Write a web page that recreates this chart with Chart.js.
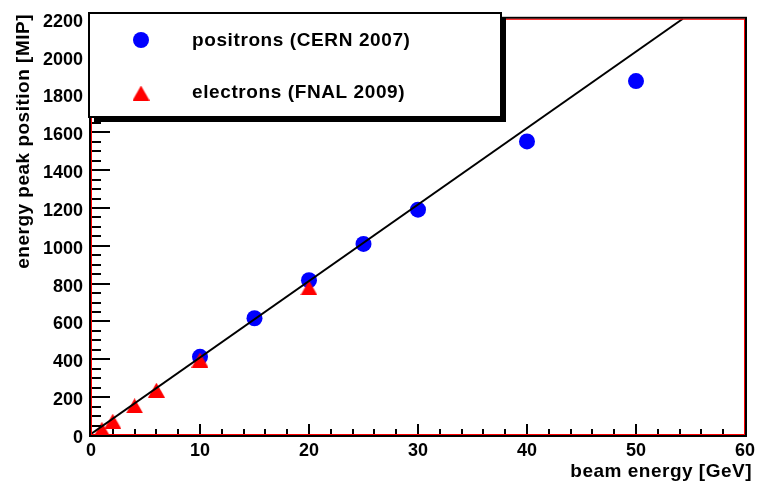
<!DOCTYPE html>
<html>
<head>
<meta charset="utf-8">
<script src="https://cdn.jsdelivr.net/npm/chart.js@4.4.1/dist/chart.umd.min.js"></script>
<style>
  html, body { margin: 0; padding: 0; background: #ffffff; }
  #wrap { width: 760px; height: 482px; }
</style>
</head>
<body>
<div id="wrap"><canvas id="c" width="760" height="482"></canvas></div>
<script>
// Beam energy scan: peak position of the energy distribution vs beam energy
const positronEnergy = [10, 15, 20, 25, 30, 40, 50];
const positronPeak   = [413, 617, 818, 1010, 1191, 1552, 1871];

const electronEnergy = [1, 2, 4, 6, 10, 20];
const electronPeak   = [30, 73, 154, 237, 396, 778];

// Straight-line fit, drawn between its two end points
const fitEnergy = [0, 54.3];
const fitPeak   = [5, 2200];

const xTicks = [0, 10, 20, 30, 40, 50, 60];
const yTicks = [0, 200, 400, 600, 800, 1000, 1200, 1400, 1600, 1800, 2000, 2200];

const legendLabels = ['positrons (CERN 2007)', 'electrons (FNAL 2009)'];
const axisTitles = { x: 'beam energy [GeV]', y: 'energy peak position [MIP]' };

const FONT = "'Liberation Sans', Arial, Helvetica, sans-serif";
const BLUE = '#0000ff';
const RED = '#ff0000';

// Upward triangle marker, centred half-way up its height
function makeTriangle(w, h) {
  const cv = document.createElement('canvas');
  cv.width = w; cv.height = h;
  const g = cv.getContext('2d');
  g.fillStyle = RED;
  g.beginPath();
  g.moveTo(w / 2, 0);
  g.lineTo(w, h);
  g.lineTo(0, h);
  g.closePath();
  g.fill();
  return cv;
}
const triangleMark = makeTriangle(17, 15);

const zip = (xs, ys) => xs.map((x, i) => ({ x: x, y: ys[i] }));

// Inward tick marks, frame and boxed legend
const decorations = {
  id: 'decorations',
  afterDraw(chart) {
    const ctx = chart.ctx;
    const a = chart.chartArea;
    const xs = chart.scales.x, ys = chart.scales.y;
    ctx.save();

    // tick marks pointing into the plot
    ctx.strokeStyle = '#000';
    ctx.lineWidth = 2;
    ctx.beginPath();
    for (let v = 0; v <= 2200; v += 50) {
      const py = Math.round(ys.getPixelForValue(v));
      const len = (v % 200 === 0) ? 19 : 10;
      ctx.moveTo(a.left, py);
      ctx.lineTo(a.left + len, py);
    }
    for (let v = 0; v <= 60; v += 2) {
      const px = Math.round(xs.getPixelForValue(v));
      const len = (v % 10 === 0) ? 11 : 6;
      ctx.moveTo(px, a.bottom);
      ctx.lineTo(px, a.bottom - len);
    }
    ctx.stroke();

    // frame: black outline with a red inner line
    ctx.lineWidth = 2;
    ctx.strokeStyle = '#000';
    ctx.strokeRect(a.left - 1, a.top - 1, a.right - a.left + 2, a.bottom - a.top + 2);
    ctx.lineWidth = 1;
    ctx.strokeStyle = RED;
    ctx.strokeRect(a.left + 0.5, a.top + 0.5, a.right - a.left - 1, a.bottom - a.top - 1);

    // legend box with drop shadow
    const bx = 89, by = 13, bw = 412, bh = 104;
    ctx.fillStyle = '#000';
    ctx.fillRect(bx + 5, by + 5, bw, bh);
    ctx.fillStyle = '#fff';
    ctx.fillRect(bx, by, bw, bh);
    ctx.lineWidth = 2;
    ctx.strokeStyle = '#000';
    ctx.strokeRect(bx, by, bw, bh);

    ctx.fillStyle = BLUE;
    ctx.beginPath();
    ctx.arc(141, 40, 8, 0, Math.PI * 2);
    ctx.fill();
    ctx.drawImage(triangleMark, 141 - triangleMark.width / 2, 93 - triangleMark.height / 2);

    ctx.fillStyle = '#000';
    ctx.font = 'bold 19px ' + FONT;
    ctx.letterSpacing = '0.6px';
    ctx.textAlign = 'left';
    ctx.textBaseline = 'alphabetic';
    ctx.fillText(legendLabels[0], 192, 46);
    ctx.fillText(legendLabels[1], 192, 98);

    // axis titles, aligned to the far ends of the axes
    ctx.letterSpacing = '0.5px';
    ctx.textAlign = 'right';
    ctx.fillText(axisTitles.x, 752, 477);
    ctx.save();
    ctx.translate(29, 14);
    ctx.rotate(-Math.PI / 2);
    ctx.textAlign = 'right';
    ctx.fillText(axisTitles.y, 0, 0);
    ctx.restore();

    ctx.restore();
  }
};

new Chart(document.getElementById('c'), {
  type: 'scatter',
  data: {
    datasets: [
      {
        type: 'line',
        label: 'fit',
        data: zip(fitEnergy, fitPeak),
        borderColor: '#000',
        borderWidth: 2,
        pointRadius: 0,
        fill: false,
        order: 0
      },
      {
        label: legendLabels[1],
        data: zip(electronEnergy, electronPeak),
        pointStyle: triangleMark,
        backgroundColor: RED,
        borderWidth: 0,
        clip: false,
        order: 1
      },
      {
        label: legendLabels[0],
        data: zip(positronEnergy, positronPeak),
        pointStyle: 'circle',
        pointRadius: 8,
        backgroundColor: BLUE,
        borderWidth: 0,
        clip: false,
        order: 2
      }
    ]
  },
  options: {
    responsive: false,
    animation: false,
    devicePixelRatio: 1,
    layout: { padding: { left: 0, right: 13, top: 14, bottom: 0 } },
    plugins: { legend: { display: false }, tooltip: { enabled: false } },
    scales: {
      x: {
        type: 'linear',
        min: 0, max: 60,
        grid: { display: false, drawTicks: false },
        border: { display: false },
        afterBuildTicks: s => { s.ticks = xTicks.map(v => ({ value: v })); },
        afterFit: s => { s.height = 47; },
        ticks: {
          color: '#000',
          padding: 5,
          maxRotation: 0,
          callback: v => String(v),
          font: { family: FONT, size: 18, weight: 'bold' }
        }
      },
      y: {
        type: 'linear',
        min: 0, max: 2200,
        grid: { display: false, drawTicks: false },
        border: { display: false },
        afterBuildTicks: s => { s.ticks = yTicks.map(v => ({ value: v })); },
        afterFit: s => { s.width = 91; },
        ticks: {
          color: '#000',
          padding: 8,
          labelOffset: 3,
          callback: v => String(v),
          font: { family: FONT, size: 18, weight: 'bold' }
        }
      }
    }
  },
  plugins: [decorations]
});
</script>
</body>
</html>
